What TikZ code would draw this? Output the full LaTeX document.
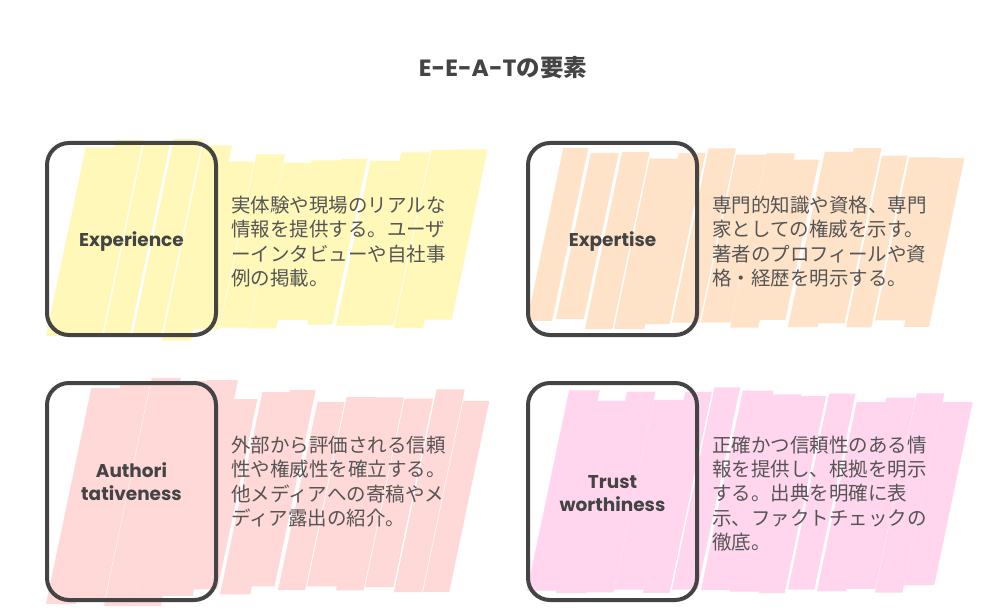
\documentclass[tikz,border=0pt]{standalone}
\usepackage{fontspec}
\setmainfont{Noto Sans CJK JP}
\newfontfamily\hand{Poppins}
\usepackage{tikz}

\definecolor{ink}{HTML}{444444}
\definecolor{desc}{HTML}{555555}
\definecolor{expyellow}{HTML}{FFF8B9}
\definecolor{exppeach}{HTML}{FFE3C9}
\definecolor{authpink}{HTML}{FFD8D8}
\definecolor{trustpink}{HTML}{FFD6EE}

% hachure behind a card: x list, top under box, top beside, bottom, colour
\newcommand\scrib[5]{%
  \foreach \x in {#1}{%
    \pgfmathsetmacro\tp{ifthenelse(\x<180,#2,#3)+8*rand}
    \pgfmathsetmacro\bt{ifthenelse(\x<180,#4,#4-12)+6*rand}
    \pgfmathsetmacro\wd{28+3*rand}
    \pgfmathsetmacro\sl{0.21*(\bt-\tp)}
    \fill[#5] (\x,\bt) -- ++(\wd,0) -- ++(\sl,\tp-\bt) -- ++(-\wd,0) -- cycle;
  }%
}

\tikzset{
  cardbox/.style={draw=ink, line width=4pt, rounded corners=22pt,
    minimum width=169pt, minimum height=192pt, inner sep=0pt},
  cardlabel/.style={text=ink, align=center, inner sep=0pt,
    font=\hand\bfseries\fontsize{18.5}{23.5}\selectfont},
  carddesc/.style={text=desc, align=left, anchor=west, inner sep=0pt,
    font=\fontsize{19.5}{24.3}\selectfont},
}

\begin{document}
\begin{tikzpicture}[x=1pt, y=-1pt]
  \useasboundingbox[fill=white] (0,0) rectangle (1008,612);

  \node[text=ink, inner sep=0pt] (title) at (503,68)
    {{\hand\bfseries\fontsize{23.5}{26}\selectfont E-E-A-T}{\bfseries\fontsize{23.5}{26}\selectfont の要素}};

  % Experience
  \pgfmathsetseed{11}
  \scrib{46,75,...,423}{142}{156}{336}{expyellow}
  \node[cardbox, minimum height=192pt] (expbox) at (131.5,239) {};
  \node[cardlabel] (explabel) at (131.5,241.5) {Experience};
  \node[carddesc] (expdesc) at (231,241.5)
    {実体験や現場のリアルな\\情報を提供する。ユーザ\\ーインタビューや自社事\\例の掲載。};

  % Expertise
  \pgfmathsetseed{23}
  \scrib{527,556,...,904}{142}{156}{336}{exppeach}
  \node[cardbox, minimum height=192pt] (skillbox) at (612.5,239) {};
  \node[cardlabel] (skilllabel) at (612.5,241.5) {Expertise};
  \node[carddesc] (skilldesc) at (712,241.5)
    {専門的知識や資格、専門\\家としての権威を示す。\\著者のプロフィールや資\\格・経歴を明示する。};

  % Authoritativeness
  \pgfmathsetseed{37}
  \scrib{46,75,...,423}{382}{394}{601}{authpink}
  \node[cardbox, minimum height=217pt] (authbox) at (131.5,491.5) {};
  \node[cardlabel] (authlabel) at (131.5,481.5) {Authori\\tativeness};
  \node[carddesc] (authdesc) at (231,481.5)
    {外部から評価される信頼\\性や権威性を確立する。\\他メディアへの寄稿やメ\\ディア露出の紹介。};

  % Trustworthiness
  \pgfmathsetseed{41}
  \scrib{527,556,...,904}{382}{394}{601}{trustpink}
  \node[cardbox, minimum height=217pt] (trustbox) at (612.5,491.5) {};
  \node[cardlabel] (trustlabel) at (612.5,493.5) {Trust\\worthiness};
  \node[carddesc] (trustdesc) at (712,493.5)
    {正確かつ信頼性のある情\\報を提供し、根拠を明示\\する。出典を明確に表\\示、ファクトチェックの\\徹底。};
\end{tikzpicture}
\end{document}
